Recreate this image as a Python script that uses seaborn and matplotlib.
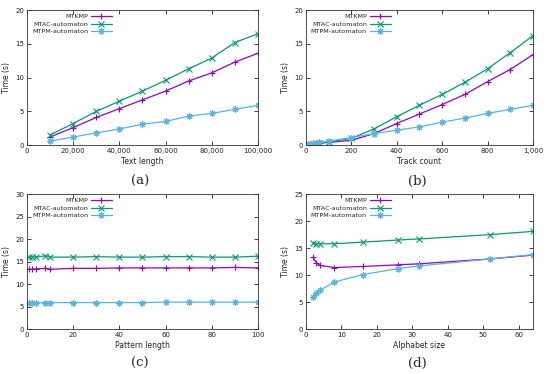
import numpy as np
import pandas as pd
import seaborn as sns
import matplotlib
matplotlib.use("Agg")
import matplotlib.pyplot as plt

# (a) text length
text_len = [10000, 20000, 30000, 40000, 50000, 60000, 70000, 80000, 90000, 100000]
a_kmp = [1.2, 2.6, 4.1, 5.4, 6.7, 8.0, 9.5, 10.7, 12.3, 13.6]
a_ac = [1.5, 3.2, 5.0, 6.5, 8.0, 9.6, 11.3, 12.9, 15.2, 16.5]
a_pm = [0.6, 1.2, 1.8, 2.4, 3.1, 3.5, 4.3, 4.7, 5.3, 5.9]

# (b) track count
tracks = [1, 10, 30, 60, 100, 200, 300, 400, 500, 600, 700, 800, 900, 1000]
b_kmp = [0.05, 0.1, 0.2, 0.3, 0.4, 0.7, 1.7, 3.2, 4.6, 6.0, 7.5, 9.4, 11.2, 13.4]
b_ac = [0.05, 0.1, 0.2, 0.3, 0.45, 1.0, 2.4, 4.2, 5.9, 7.5, 9.3, 11.3, 13.7, 16.2]
b_pm = [0.1, 0.15, 0.25, 0.4, 0.6, 1.1, 1.7, 2.2, 2.7, 3.4, 4.0, 4.7, 5.3, 5.9]

# (c) pattern length
pat_len = [1, 2, 4, 8, 10, 20, 30, 40, 50, 60, 70, 80, 90, 100]
c_kmp = [13.3, 13.3, 13.4, 13.5, 13.3, 13.5, 13.5, 13.6, 13.6, 13.6, 13.6, 13.6, 13.7, 13.6]
c_ac = [16.0, 16.1, 16.0, 16.3, 16.0, 16.0, 16.1, 16.0, 16.0, 16.1, 16.1, 16.0, 16.0, 16.2]
c_pm = [5.9, 5.9, 5.8, 5.9, 5.9, 5.9, 5.9, 5.9, 5.9, 6.0, 6.0, 6.0, 6.0, 6.0]

# (d) alphabet size
alpha = [2, 3, 4, 8, 16, 26, 32, 52, 64]
d_kmp = [13.3, 12.3, 11.8, 11.4, 11.6, 11.9, 12.1, 13.0, 13.7]
d_ac = [16.0, 15.8, 15.8, 15.8, 16.1, 16.5, 16.7, 17.5, 18.1]
d_pm = [6.0, 6.6, 7.2, 8.7, 10.1, 11.2, 11.7, 13.0, 13.8]

names = ["MTKMP", "MTAC-automaton", "MTPM-automaton"]
colors = ["#9400d3", "#009e73", "#56b4e9"]
markers = ["+", "x", (8, 2, 0)]

sns.set_style("ticks")
plt.rcParams["font.family"] = ["DejaVu Sans"]

fig = plt.figure(figsize=(5.5, 3.74), dpi=100)

panels = [
    ([0.049, 0.612, 0.42, 0.361], text_len, [a_kmp, a_ac, a_pm], "Text length", (0, 100000), (0, 20),
     [0, 20000, 40000, 60000, 80000, 100000], [0, 5, 10, 15, 20], "(a)", 0.255, 0.516),
    ([0.556, 0.612, 0.413, 0.361], tracks, [b_kmp, b_ac, b_pm], "Track count", (0, 1000), (0, 20),
     [0, 200, 400, 600, 800, 1000], [0, 5, 10, 15, 20], "(b)", 0.758, 0.516),
    ([0.049, 0.120, 0.42, 0.361], pat_len, [c_kmp, c_ac, c_pm], "Pattern length", (0, 100), (0, 30),
     [0, 20, 40, 60, 80, 100], [0, 5, 10, 15, 20, 25, 30], "(c)", 0.255, 0.027),
    ([0.556, 0.120, 0.413, 0.361], alpha, [d_kmp, d_ac, d_pm], "Alphabet size", (0, 64), (0, 25),
     [0, 10, 20, 30, 40, 50, 60], [0, 5, 10, 15, 20, 25], "(d)", 0.758, 0.027),
]

for rect, xs, series, xlab, xlim, ylim, xt, yt, tag, tx, ty in panels:
    ax = fig.add_axes(rect)
    for name, ys, col, mk in zip(names, series, colors, markers):
        sns.lineplot(x=xs, y=ys, ax=ax, color=col, marker=mk, markersize=4.5,
                     markeredgewidth=0.8, markeredgecolor=col, linewidth=0.9, label=name)
    ax.set_xlim(*xlim)
    ax.set_ylim(*ylim)
    ax.set_xticks(xt)
    ax.set_yticks(yt)
    if xt[-1] >= 1000:
        ax.set_xticklabels([f"{v:,}" for v in xt])
    ax.tick_params(direction="in", length=3, width=0.6, labelsize=5,
                   top=True, right=True, pad=2, colors="#222222")
    for s in ax.spines.values():
        s.set_linewidth(0.6)
        s.set_color("#333333")
    ax.set_xlabel(xlab, fontsize=5.5, labelpad=2)
    ax.set_ylabel("Time (s)", fontsize=5.5, labelpad=3)
    # markerfirst=False right-aligns the handles, so the labels end at the line samples
    ax.legend(loc="upper left", frameon=False, fontsize=4.6, markerfirst=False,
              handlelength=3.2, handletextpad=0.5, labelspacing=0.3,
              borderaxespad=0.2, bbox_to_anchor=(0.005, 1.0))
    fig.text(tx, ty, tag, fontsize=9.5, family="DejaVu Serif", ha="center", va="center")

fig.savefig("out.png", dpi=100)
